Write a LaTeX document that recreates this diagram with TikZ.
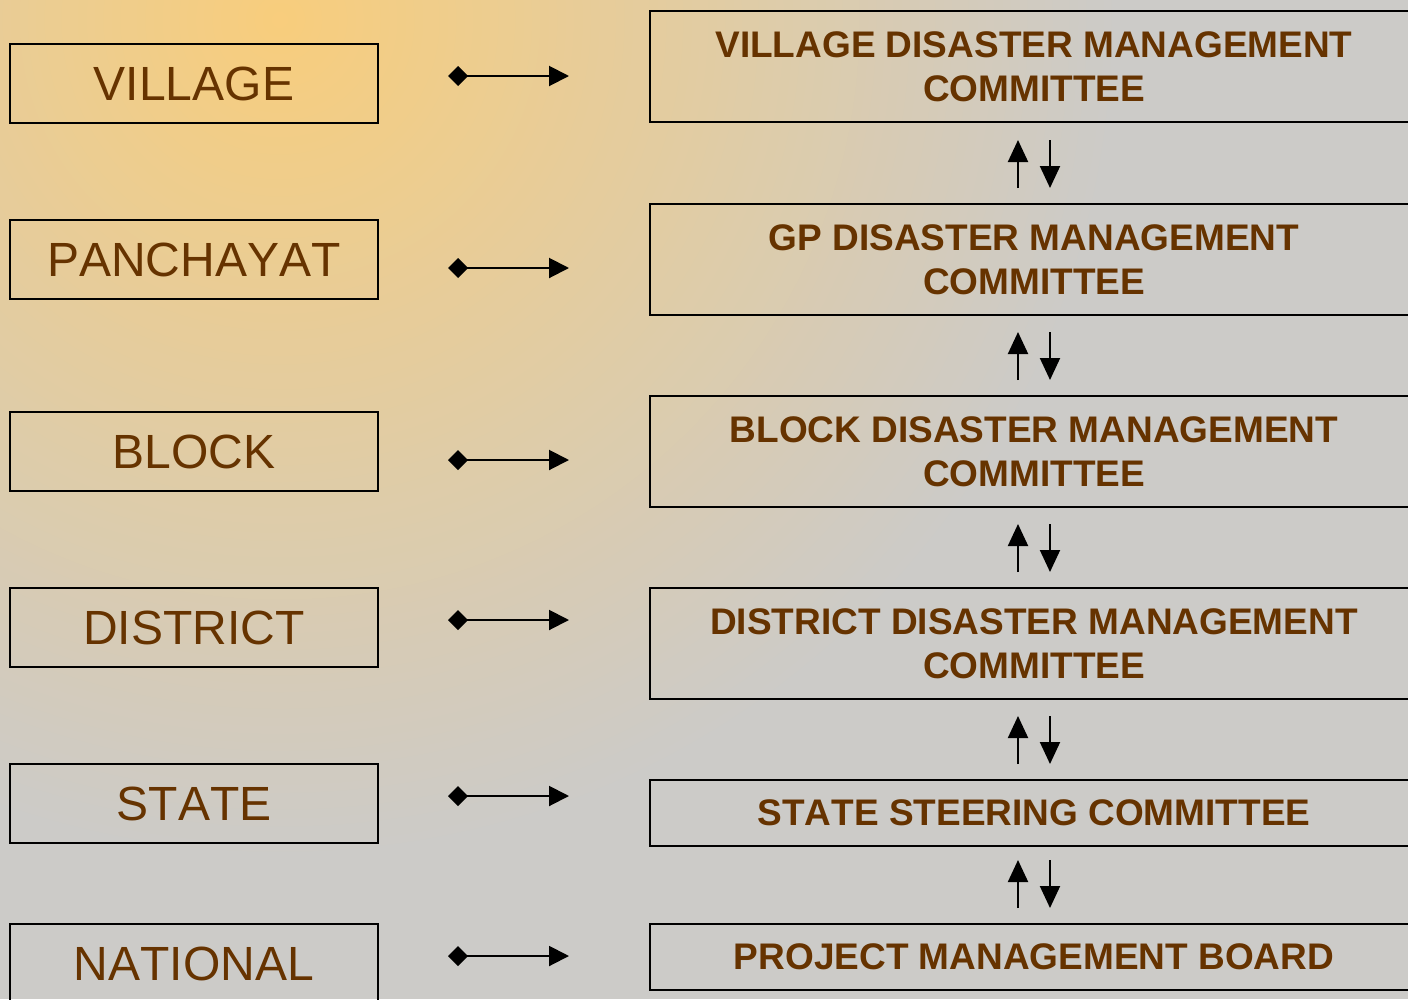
\documentclass[tikz,border=0pt]{standalone}
\usepackage{fontspec}
\setmainfont{Liberation Sans}[Kerning=Off]
\usetikzlibrary{arrows.meta}
\definecolor{txt}{RGB}{102,51,0}
\definecolor{bgorange}{RGB}{248,205,124}
\definecolor{bggray}{RGB}{204,203,200}
\begin{document}
\begin{tikzpicture}[x=1pt,y=-1pt,
  levelbox/.style={draw=black, line width=2pt, minimum width=368pt, minimum height=79pt,
    inner sep=0pt, text=txt, font=\fontsize{48}{58}\selectfont},
  bodybox/.style={draw=black, line width=2pt, minimum width=768pt,
    inner sep=0pt, text=txt, align=center, font=\bfseries\fontsize{37}{44}\selectfont},
  hlink/.style={line width=2pt, {Diamond[length=20pt,width=20pt]}-{Triangle[length=20pt,width=20pt]}},
  vlink/.style={line width=2pt, -{Triangle[length=22pt,width=20pt]}}]
\useasboundingbox (0,0) rectangle (1408,999);
\fill[bggray] (0,0) rectangle (1408,999);
\begin{scope}
  \clip (0,0) rectangle (1408,999);
  \foreach \i in {100,99,...,1} {
    \pgfmathsetmacro\rr{8.4*\i}
    \fill[bggray!\i!bgorange] (280,20) circle (\rr);
  }
\end{scope}
% left level boxes
\node[levelbox] (village)   at (194,83.5)  {VILLAGE};
\node[levelbox] (panchayat) at (194,259.5) {PANCHAYAT};
\node[levelbox] (block)     at (194,451.5) {BLOCK};
\node[levelbox] (district)  at (194,627.5) {DISTRICT};
\node[levelbox] (state)     at (194,803.5) {STATE};
\node[levelbox] (national)  at (194,963.5) {NATIONAL};
% right committee boxes
\node[bodybox, minimum height=111pt] (vdmc) at (1034,66.5)  {VILLAGE DISASTER MANAGEMENT\\COMMITTEE};
\node[bodybox, minimum height=111pt] (gpdmc) at (1034,259.5) {GP DISASTER MANAGEMENT\\COMMITTEE};
\node[bodybox, minimum height=111pt] (bdmc) at (1034,451.5) {BLOCK DISASTER MANAGEMENT\\COMMITTEE};
\node[bodybox, minimum height=111pt] (ddmc) at (1034,643.5) {DISTRICT DISASTER MANAGEMENT\\COMMITTEE};
\node[bodybox, minimum height=66pt] (ssc) at (1034,813) {STATE STEERING COMMITTEE};
\node[bodybox, minimum height=66pt] (pmb) at (1034,957) {PROJECT MANAGEMENT BOARD};
% horizontal links
\foreach \yy [count=\i] in {76,268,460,620,796,956} {
  \coordinate (hs\i) at (448,\yy);
  \coordinate (he\i) at (569,\yy);
  \draw[hlink] (hs\i) -- (he\i);
}
% vertical up/down links
\foreach \ta/\tb [count=\i] in {140/188,332/380,524/572,716/764,860/908} {
  \coordinate (ut\i) at (1018,\ta);
  \coordinate (ub\i) at (1018,\tb);
  \coordinate (dt\i) at (1050,\ta);
  \coordinate (db\i) at (1050,\tb);
  \draw[vlink] (ub\i) -- (ut\i);
  \draw[vlink] (dt\i) -- (db\i);
}
\end{tikzpicture}
\end{document}
